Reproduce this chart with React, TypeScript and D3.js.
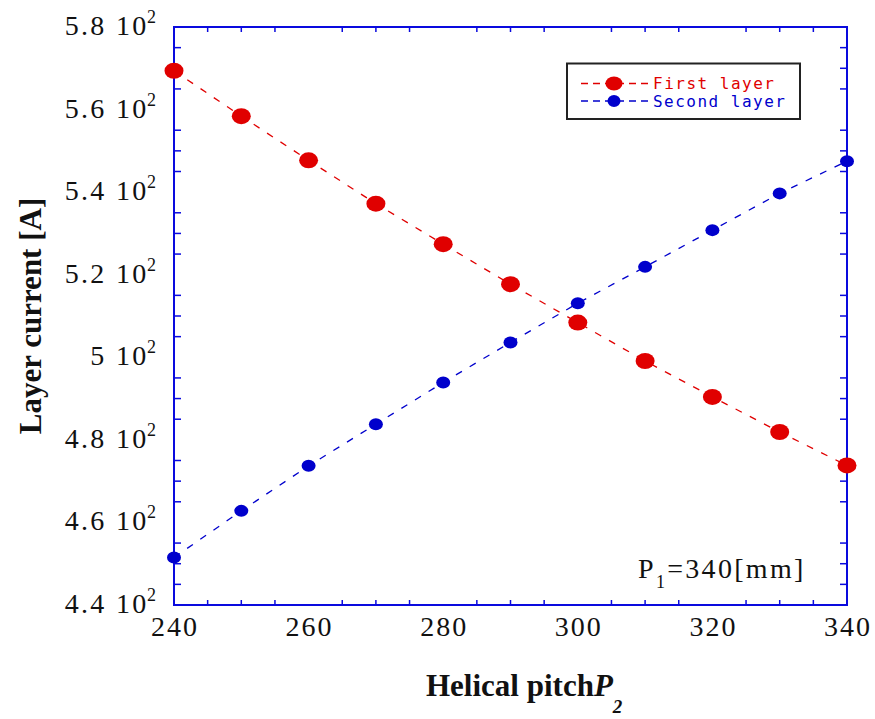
import React from "react";
import * as d3 from "d3";

const pitches = [240, 250, 260, 270, 280, 290, 300, 310, 320, 330, 340];
const firstLayer = [569.4, 558.4, 547.7, 537.2, 527.4, 517.7, 508.4, 499.1, 490.4, 481.9, 473.8];
const secondLayer = [451.5, 462.8, 473.7, 483.8, 493.9, 503.6, 513.1, 521.9, 530.8, 539.7, 547.5];
const yTickValues = [440, 460, 480, 500, 520, 540, 560, 580];
const yTickMantissa = ["4.4", "4.6", "4.8", "5", "5.2", "5.4", "5.6", "5.8"];
const xTickValues = [240, 260, 280, 300, 320, 340];

const W = 875;
const H = 719;
const L = 174, R = 847, T = 27, B = 605;
const AXIS = "#0a0ade";
const RED = "#e00000";
const BLUE = "#0000cc";
const SERIF = "'Liberation Serif', 'Times New Roman', Times, 'DejaVu Serif', serif";

export default function App() {
  const x = d3.scaleLinear().domain([240, 340]).range([L, R]);
  const y = d3.scaleLinear().domain([440, 580]).range([B, T]);
  const line = d3.line<number>().x((_, i) => x(pitches[i])).y((d) => y(d));

  const xMinor = d3.range(240, 341, 5).filter((v) => v % 20 !== 0);
  const yMinor = d3.range(440, 581, 5).filter((v) => v % 20 !== 0);

  return (
    <svg width={W} height={H} style={{ position: "absolute", left: 0, top: 0, background: "#fff" }}>
      <rect x={0} y={0} width={W} height={H} fill="#fff" />
      <rect x={L} y={T} width={R - L} height={B - T} fill="none" stroke={AXIS} strokeWidth={2} />
      {xMinor.map((v) => (
        <g key={"xm" + v}>
          <line x1={x(v)} x2={x(v)} y1={B} y2={B - 5} stroke={AXIS} strokeWidth={1.5} />
          <line x1={x(v)} x2={x(v)} y1={T} y2={T + 5} stroke={AXIS} strokeWidth={1.5} />
        </g>
      ))}
      {yMinor.map((v) => (
        <g key={"ym" + v}>
          <line x1={L} x2={L + 7} y1={y(v)} y2={y(v)} stroke={AXIS} strokeWidth={1.5} />
          <line x1={R} x2={R - 7} y1={y(v)} y2={y(v)} stroke={AXIS} strokeWidth={1.5} />
        </g>
      ))}
      {yTickValues.map((v, i) => (
        <g key={"yl" + v}>
          <text x={148.5} y={y(v) + 8} textAnchor="end"
            style={{ fontFamily: SERIF, letterSpacing: "2.3px" }} fontSize={28} fill="#111">
            {yTickMantissa[i] + " 10"}
          </text>
          <text x={147} y={y(v) - 4} style={{ fontFamily: SERIF }} fontSize={18} fill="#111">2</text>
        </g>
      ))}
      {xTickValues.map((v) => (
        <text key={"xl" + v} x={x(v) + 1} y={636} textAnchor="middle"
          style={{ fontFamily: SERIF, letterSpacing: "2px" }} fontSize={28} fill="#111">{v}</text>
      ))}
      <path d={line(firstLayer) || ""} fill="none" stroke={RED} strokeWidth={1.3} strokeDasharray="7,9" />
      <path d={line(secondLayer) || ""} fill="none" stroke={BLUE} strokeWidth={1.3} strokeDasharray="7,9" />
      {firstLayer.map((d, i) => (
        <ellipse key={"r" + i} cx={x(pitches[i])} cy={y(d)} rx={9.5} ry={8} fill={RED} />
      ))}
      {secondLayer.map((d, i) => (
        <ellipse key={"b" + i} cx={x(pitches[i])} cy={y(d)} rx={7} ry={6} fill={BLUE} />
      ))}
      <rect x={567} y={63.5} width={233} height={55.5} fill="#fff" stroke="#222" strokeWidth={2} />
      <line x1={581} x2={648} y1={83.5} y2={83.5} stroke={RED} strokeWidth={1.3} strokeDasharray="7,5" />
      <ellipse cx={614} cy={83.5} rx={8.5} ry={7} fill={RED} />
      <text x={653} y={89} style={{ fontFamily: "'DejaVu Sans Mono', monospace" }} fontSize={16} fill={RED}
        textLength={121} lengthAdjust="spacing">First layer</text>
      <line x1={581} x2={648} y1={101} y2={101} stroke={BLUE} strokeWidth={1.3} strokeDasharray="7,5" />
      <ellipse cx={614} cy={101} rx={6.5} ry={6} fill={BLUE} />
      <text x={653} y={106.5} style={{ fontFamily: "'DejaVu Sans Mono', monospace" }} fontSize={16} fill={BLUE}
        textLength={132} lengthAdjust="spacing">Second layer</text>
      <text x={638} y={578} style={{ fontFamily: SERIF, letterSpacing: "2.3px" }} fontSize={28} fill="#111">
        P<tspan dy={10} fontSize={18}>1</tspan><tspan dy={-10}>=340[mm]</tspan>
      </text>
      <text x={426} y={696} style={{ fontFamily: SERIF }} fontSize={31} fontWeight="bold" fill="#111">
        Helical pitch<tspan fontStyle="italic">P</tspan><tspan dy={17} fontSize={19} fontStyle="italic">2</tspan>
      </text>
      <text transform="translate(41,316) rotate(-90)" textAnchor="middle"
        style={{ fontFamily: SERIF }} fontSize={31} fontWeight="bold" fill="#111">
        Layer current [A]
      </text>
    </svg>
  );
}
